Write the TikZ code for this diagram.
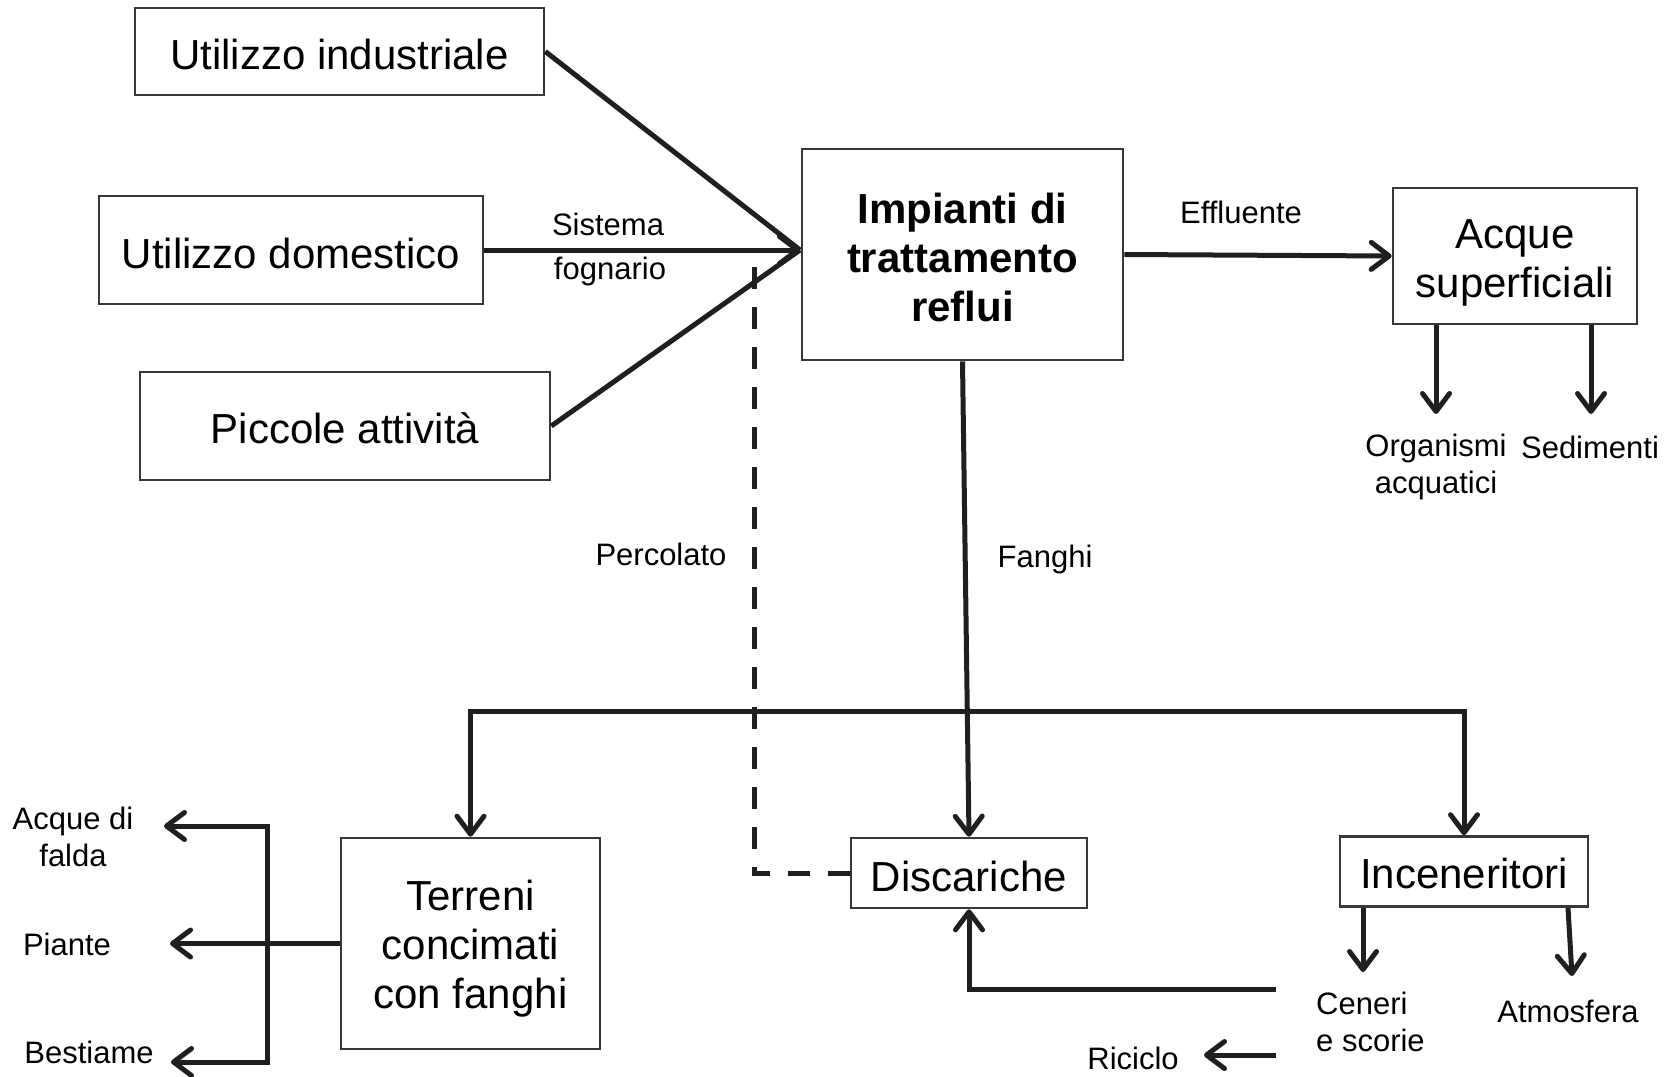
\documentclass[tikz,border=0pt]{standalone}
\usepackage{fontspec}
\setmainfont{Liberation Sans}
\usetikzlibrary{arrows.meta}
\begin{document}
\begin{tikzpicture}[x=1pt,y=-1pt,
  box/.style={draw=black!78, line width=2.6pt, inner sep=0pt, align=center, font=\fontsize{42}{49}\selectfont},
  lbl/.style={inner sep=0pt, align=center, font=\fontsize{31}{37.5}\selectfont},
  ln/.style={line width=5pt, draw=black!88, line join=miter},
  arr/.style={ln, -{Straight Barb[length=18pt,width=27pt,round]}},
  dashline/.style={ln, dash pattern=on 22pt off 18pt}
]
\useasboundingbox (0,0) rectangle (1672,1076);

% boxes
\node[box, minimum width=409pt, minimum height=87pt, text height=36.5pt] (ind) at (339.5,51.5) {Utilizzo industriale};
\node[box, minimum width=384pt, minimum height=108pt, text height=36.5pt] (dom) at (291,250) {Utilizzo domestico};
\node[box, minimum width=410pt, minimum height=108pt, text height=35pt] (pic) at (345,426) {Piccole attività};
\node[box, minimum width=321pt, minimum height=211pt, text height=134pt, font=\fontsize{42}{49}\selectfont\bfseries] (imp) at (962.5,254.5) {Impianti di\\trattamento\\reflui};
\node[box, minimum width=244pt, minimum height=136pt, text height=91pt] (acq) at (1515,256) {Acque\\superficiali};
\node[box, minimum width=259pt, minimum height=211pt, text height=138pt] (ter) at (470.5,943.5) {Terreni\\concimati\\con fanghi};
\node[box, minimum width=236pt, minimum height=70pt, text height=36.5pt] (dis) at (969,873) {Discariche};
\node[box, minimum width=248pt, minimum height=70pt, text height=35pt] (inc) at (1464,871.5) {Inceneritori};

% labels
\node[lbl] (sis) at (608,224) {Sistema};
\node[lbl] (fog) at (610,271) {fognario};
\node[lbl] (eff) at (1241,212) {Effluente};
\node[lbl] (org) at (1436,467) {Organismi\\acquatici};
\node[lbl] (sed) at (1590,447) {Sedimenti};
\node[lbl] (per) at (661,554) {Percolato};
\node[lbl] (fan) at (1045,559) {Fanghi};
\node[lbl] (fal) at (73,837) {Acque di\\falda};
\node[lbl] (pia) at (67,944) {Piante};
\node[lbl] (bes) at (89,1052) {Bestiame};
\node[lbl, align=left, anchor=west] (cen) at (1316,1022) {Ceneri\\e scorie};
\node[lbl] (atm) at (1568,1011) {Atmosfera};
\node[lbl] (ric) at (1133,1058) {Riciclo};

% coordinates
\coordinate (T) at (800,250);
\coordinate (otip) at (1436,414);
\coordinate (stip) at (1591,414);
\coordinate (B) at (966,711);
\coordinate (P) at (754,256);
\coordinate (V) at (267,943.5);
\coordinate (ptip) at (170,943.5);
\coordinate (ftip) at (164,826);
\coordinate (btip) at (171,1062);
\coordinate (ctip) at (1363,972);
\coordinate (atip) at (1572,976);
\coordinate (rs) at (1276,989);
\coordinate (rr) at (1276,1055);
\coordinate (rtip) at (1204,1055);

% connectors
\draw[ln] (ind.east) -- (T);
\draw[ln] (pic.east) -- (T);
\draw[arr] (dom.east) -- (T);
\draw[arr] (imp.east) -- (acq.west);
\draw[arr] (acq.south -| otip) -- (otip);
\draw[arr] (acq.south -| stip) -- (stip);
\draw[arr] (imp.south) -- (dis.north);
\draw[arr] (B) -| (ter.north);
\draw[arr] (B) -| (inc.north);
\draw[dashline] (dis.west) -| (P);
\draw[arr] (ter.west) -- (ptip);
\draw[arr] (V) |- (ftip);
\draw[arr] (V) |- (btip);
\draw[arr] (inc.south -| ctip) -- (ctip);
\draw[arr] ([xshift=104pt]inc.south) -- (atip);
\draw[arr] (rs) -| (dis.south);
\draw[arr] (rr) -- (rtip);
\end{tikzpicture}
\end{document}
